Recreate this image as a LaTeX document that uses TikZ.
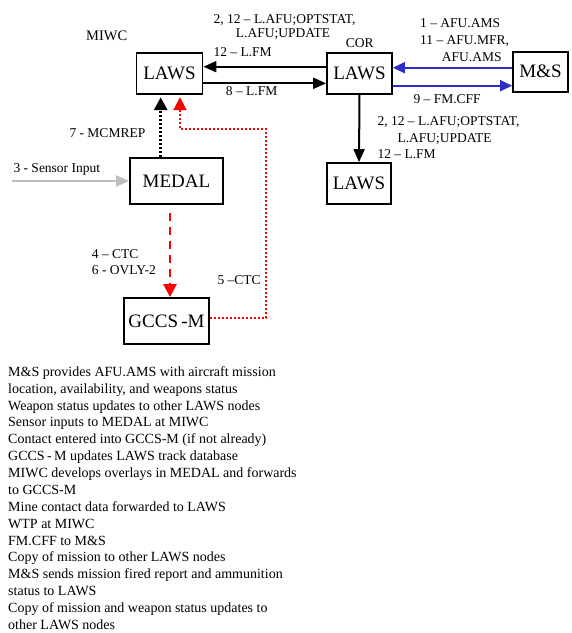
\documentclass[tikz,border=0pt]{standalone}
\usepackage{fontspec}
\setmainfont{Liberation Serif}
\usetikzlibrary{arrows.meta}
\definecolor{linkblue}{RGB}{45,45,200}
\definecolor{feedgray}{RGB}{190,190,190}

\begin{document}
\begin{tikzpicture}[x=1pt,y=-1pt,
  sysbox/.style={draw, line width=1.8pt, inner sep=0pt, font=\fontsize{19}{22}\selectfont},
  lbl/.style={anchor=base west, inner sep=0pt, font=\fontsize{13.5}{16}\selectfont},
  site/.style={anchor=base west, inner sep=0pt, font=\fontsize{14.5}{17}\selectfont},
  tip/.style={-{Triangle[length=13pt,width=11pt]}},
  uptip/.style={-{Triangle[length=13pt,width=13pt]}},
  flow/.style={tip, line width=2pt},
  blueflow/.style={-{Triangle[length=12pt,width=11pt]}, line width=2pt, draw=linkblue, fill=linkblue},
  grayflow/.style={flow, draw=feedgray, fill=feedgray},
  mcmflow/.style={uptip, line width=3pt, dash pattern=on 2pt off 2pt},
  ctcflow/.style={uptip, red, line width=2pt, dash pattern=on 2pt off 2pt},
  ovlyflow/.style={uptip, red, line width=2.5pt, dash pattern=on 8pt off 6pt}
]
\useasboundingbox (0,0) rectangle (572,633);

% systems
\node[sysbox, minimum width=66pt, minimum height=41pt] (lawsM) at (169.5,73.8) {LAWS};
\node[sysbox, minimum width=65pt, minimum height=41pt] (lawsC) at (359.5,73.5) {LAWS};
\node[sysbox, minimum width=64pt, minimum height=41pt] (lawsL) at (359,183.5) {LAWS};
\node[sysbox, minimum width=55pt, minimum height=40pt] (ms) at (540.5,71.7) {M\&S};
\node[sysbox, minimum width=93pt, minimum height=46pt] (medal) at (176.5,181) {MEDAL};
\node[sysbox, minimum width=85pt, minimum height=46pt] (gccs) at (166.5,321) {GCCS\thinspace-M};

% site names
\node[site] (miwc) at (86,40) {MIWC};
\node[lbl] (cor) at (345.7,47.7) {COR};

% LAWS to LAWS
\draw[flow] ([yshift=6.8pt]lawsC.west) -- ([yshift=7.1pt]lawsM.east);
\draw[flow] ([yshift=-9.5pt]lawsM.east) -- ([yshift=-9.8pt]lawsC.west);
\draw[flow] (lawsC.south) -- (lawsL.north);

% M&S links
\draw[blueflow] ([yshift=4pt]ms.west) -- ([yshift=5.8pt]lawsC.east);
\draw[blueflow] ([yshift=-12.2pt]lawsC.east) -- ([yshift=-14pt]ms.west);

% sensor feed and MEDAL flows
\coordinate (sensorsrc) at (12,181);
\draw[grayflow] (sensorsrc) -- (medal.west);
\draw[mcmflow] ([xshift=-15.8pt]medal.north) -- ([xshift=-8.8pt,yshift=-2pt]lawsM.south);
\draw[ovlyflow] ([xshift=-6.5pt,yshift=-8pt]medal.south) -- ([xshift=-6.5pt]medal.south |- gccs.north);
\coordinate (ctcbend) at (266,129.3);
\draw[ctcflow] ([yshift=3pt]gccs.east) -| (ctcbend) -| ([xshift=10.5pt,yshift=-2pt]lawsM.south);

% message labels
\node[lbl] (l1a) at (213.3,23) {2, 12 -- L.AFU;OPTSTAT,};
\node[lbl] (l1b) at (235.7,37.3) {L.AFU;UPDATE};
\node[lbl] (l2) at (213.3,56) {12 -- L.FM};
\node[lbl] (l3) at (225.7,95.7) {8 -- L.FM};
\node[lbl] (b1) at (420,27.7) {1 -- AFU.AMS};
\node[lbl] (b2) at (420,44.3) {11 -- AFU.MFR,};
\node[lbl] (b3) at (441.7,61.7) {AFU.AMS};
\node[lbl] (b4) at (413.3,103) {9 -- FM.CFF};
\node[lbl] (d1a) at (377.3,125) {2, 12 -- L.AFU;OPTSTAT,};
\node[lbl] (d1b) at (397.3,142.3) {L.AFU;UPDATE};
\node[lbl] (d2) at (377.3,158.3) {12 -- L.FM};
\node[lbl] (mcm) at (69.3,137.7) {7 - MCMREP};
\node[lbl] (sens) at (13.3,172.3) {3 - Sensor Input};
\node[lbl] (ctc1) at (91.7,258.3) {4 -- CTC};
\node[lbl] (ovly) at (91.7,274) {6 - OVLY-2};
\node[lbl] (ctc2) at (217.3,284) {5 --CTC};

% step descriptions
\node[anchor=north west, inner sep=0pt, align=left,
      font=\fontsize{14}{16.87}\selectfont] (steps) at (8,366.3) {%
M\&S provides AFU.AMS with aircraft mission\\
location, availability, and weapons status\\
Weapon status updates to other LAWS nodes\\
Sensor inputs to MEDAL at MIWC\\
Contact entered into GCCS-M (if not already)\\
GCCS\thinspace-\thinspace M updates LAWS track database\\
MIWC develops overlays in MEDAL and forwards\\
to GCCS-M\\
Mine contact data forwarded to LAWS\\
WTP at MIWC\\
FM.CFF to M\&S\\
Copy of mission to other LAWS nodes\\
M\&S sends mission fired report and ammunition\\
status to LAWS\\
Copy of mission and weapon status updates to\\
other LAWS nodes};
\end{tikzpicture}
\end{document}
